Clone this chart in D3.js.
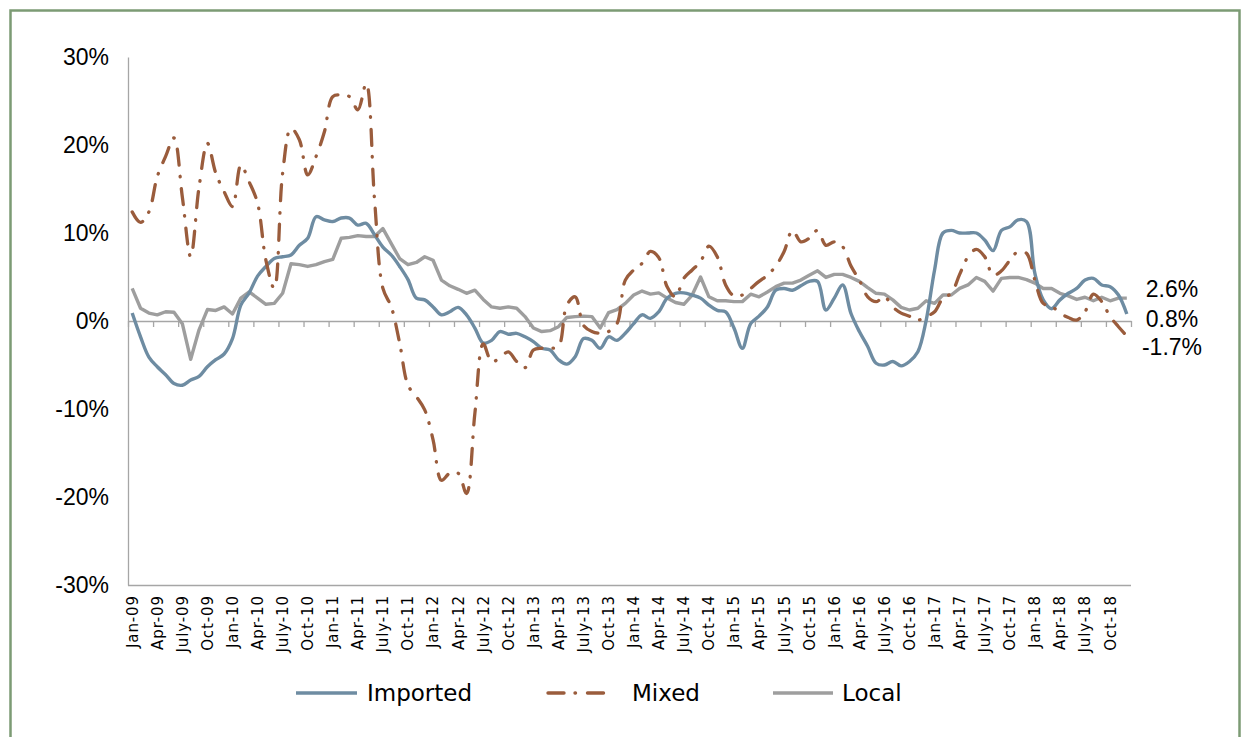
<!DOCTYPE html>
<html>
<head>
<meta charset="utf-8">
<script src="https://cdn.jsdelivr.net/npm/d3@7"></script>
<style>
  html, body { margin: 0; padding: 0; background: #fff; }
  svg { display: block; }
</style>
</head>
<body>
<div id="chart"></div>
<script>
// Monthly year-on-year change (%), Jan 2009 – Dec 2018
const years = ["09", "10", "11", "12", "13", "14", "15", "16", "17", "18"];
const monthNames = ["Jan", "Feb", "Mar", "Apr", "May", "June", "July", "Aug", "Sep", "Oct", "Nov", "Dec"];

const imported = [
  0.9, -1.8, -4.1, -5.2, -6.1, -7.1, -7.3, -6.7, -6.3, -5.2, -4.4, -3.75,
  -2.0, 1.8, 3.2, 5.1, 6.2, 7.1, 7.3, 7.5, 8.6, 9.4, 11.85, 11.5,
  11.3, 11.7, 11.7, 10.9, 11.1, 9.8, 8.4, 7.5, 6.2, 4.7, 2.6, 2.4,
  1.6, 0.7, 1.05, 1.55, 0.7, -0.8, -2.5, -2.2, -1.2, -1.5, -1.4, -1.8,
  -2.35, -3.1, -3.3, -4.4, -4.9, -4.05, -2.0, -2.2, -3.1, -1.8, -2.2, -1.4,
  -0.3, 0.7, 0.3, 1.05, 2.6, 3.15, 3.2, 2.95, 2.6, 1.8, 1.2, 1.05,
  -0.8, -3.1, -0.3, 0.55, 1.6, 3.5, 3.7, 3.5, 4.0, 4.5, 4.5, 1.25,
  2.6, 4.1, 0.85, -1.2, -2.9, -4.8, -5.0, -4.6, -5.1, -4.6, -3.5, 0.1,
  5.8, 10.0, 10.3, 10.0, 10.0, 10.0, 9.2, 8.0, 10.3, 10.7, 11.5, 11.3,
  5.4, 2.4, 1.4, 2.4, 3.15, 3.7, 4.65, 4.85, 4.1, 3.9, 2.95, 0.8
];

const mixed = [
  12.4, 11.2, 12.4, 16.4, 18.7, 20.8, 14.1, 7.3, 15.2, 20.2, 16.8, 14.7,
  13.0, 17.7, 15.8, 13.4, 6.9, 3.7, 16.8, 21.9, 20.6, 16.6, 18.7, 21.5,
  25.5, 25.7, 25.5, 24.0, 27.0, 13.75, 3.7, 1.6, -2.5, -7.3, -8.6, -10.1,
  -13.5, -18.1, -17.3, -17.3, -19.6, -10.5, -2.6, -4.6, -4.2, -3.5, -4.6, -5.3,
  -3.3, -3.1, -3.1, -2.9, 1.8, 2.75, -0.5, -1.2, -1.4, -1.2, -0.3, 4.65,
  5.8, 6.55, 7.9, 7.2, 3.9, 2.75, 4.85, 5.8, 6.75, 8.5, 7.3, 4.1,
  2.85, 2.95, 3.7, 4.5, 5.2, 6.25, 7.9, 10.3, 9.0, 9.4, 10.3, 8.6,
  9.0, 8.45, 6.25, 4.65, 2.75, 2.2, 2.75, 1.6, 0.9, 0.55, 0.1, 0.5,
  1.05, 2.6, 3.15, 5.3, 7.3, 8.15, 7.3, 5.2, 5.7, 6.9, 7.9, 7.7,
  4.65, 2.0, 1.7, 0.9, 0.4, 0.1, 1.05, 3.05, 2.2, 0.5, -0.65, -1.7
];

const local = [
  3.7, 1.45, 0.9, 0.7, 1.05, 1.0, -0.3, -4.35, -1.0, 1.3, 1.2, 1.6,
  0.8, 2.6, 3.3, 2.6, 1.9, 2.0, 3.15, 6.5, 6.4, 6.2, 6.4, 6.75,
  7.0, 9.4, 9.5, 9.7, 9.6, 9.6, 10.5, 8.8, 7.1, 6.4, 6.65, 7.3,
  6.9, 4.65, 4.0, 3.6, 3.15, 3.5, 2.45, 1.6, 1.45, 1.6, 1.45, 0.5,
  -0.8, -1.2, -1.1, -0.65, 0.4, 0.5, 0.55, 0.5, -0.8, 0.95, 1.3, 2.0,
  2.95, 3.4, 3.05, 3.2, 2.6, 2.1, 1.9, 2.95, 5.0, 2.75, 2.3, 2.3,
  2.2, 2.2, 3.05, 2.75, 3.3, 3.9, 4.3, 4.3, 4.65, 5.2, 5.7, 4.95,
  5.3, 5.3, 4.95, 4.5, 3.8, 3.15, 3.05, 2.4, 1.55, 1.25, 1.45, 2.3,
  2.0, 2.95, 2.95, 3.7, 4.1, 4.95, 4.5, 3.4, 4.85, 4.95, 4.95, 4.7,
  4.3, 3.7, 3.7, 3.15, 2.85, 2.45, 2.7, 2.3, 2.7, 2.3, 2.6, 2.6
];

const yTicks = [-30, -20, -10, 0, 10, 20, 30];

// Category labels: "Jan-09", "Feb-09", ...
const categories = years.flatMap(yy => monthNames.map(m => `${m}-${yy}`));

const W = 1243, H = 737;
const plotLeft = 128, plotRight = 1131, plotTop = 57, plotBottom = 585;

const svg = d3.select("#chart").append("svg")
  .attr("width", W).attr("height", H);

// Outer frame
svg.append("rect")
  .attr("x", 10.5).attr("y", 10.5)
  .attr("width", 1229).attr("height", 760)
  .attr("fill", "none")
  .attr("stroke", "#7C9B74")
  .attr("stroke-width", 2.5);

const x = d3.scaleBand().domain(categories).range([plotLeft, plotRight]).padding(0);
const xEdge = d3.scaleLinear().domain([0, categories.length]).range([plotLeft, plotRight]);
const y = d3.scaleLinear().domain([-30, 30]).range([plotBottom, plotTop]);

const axisColor = "#A6A6A6";

// Plot-area bottom edge
svg.append("line")
  .attr("x1", plotLeft).attr("x2", plotRight)
  .attr("y1", plotBottom + 0.5).attr("y2", plotBottom + 0.5)
  .attr("stroke", axisColor).attr("stroke-width", 1.3);

// Vertical axis with percent labels
const yAxis = svg.append("g")
  .attr("transform", `translate(${plotLeft},0)`)
  .call(d3.axisLeft(y).tickValues(yTicks).tickSize(0).tickPadding(19)
    .tickFormat(d => d + "%"));
yAxis.select(".domain").attr("stroke", axisColor).attr("stroke-width", 1.3);
yAxis.selectAll("text")
  .attr("font-family", "'Liberation Sans', Arial, sans-serif")
  .attr("font-size", 23)
  .attr("fill", "#000");

// Horizontal axis line crossing at 0%, with tick marks between quarters
const zeroAxis = svg.append("g")
  .attr("transform", `translate(0,${y(0)})`)
  .call(d3.axisBottom(xEdge)
    .tickValues(d3.range(0, categories.length + 1, 3))
    .tickSize(6).tickSizeOuter(0).tickFormat(""));
zeroAxis.select(".domain").attr("stroke", axisColor).attr("stroke-width", 1.3);
zeroAxis.selectAll(".tick line").attr("stroke", axisColor).attr("stroke-width", 1.3);

// Category labels along the bottom, every third month
const labelAxis = svg.append("g")
  .attr("transform", `translate(0,${plotBottom})`)
  .call(d3.axisBottom(x)
    .tickValues(categories.filter((d, i) => i % 3 === 0))
    .tickSize(0));
labelAxis.select(".domain").remove();
labelAxis.selectAll("text")
  .attr("font-family", "'DejaVu Sans', sans-serif")
  .attr("font-size", 15)
  .attr("letter-spacing", 0.9)
  .attr("fill", "#000")
  .attr("text-anchor", "end")
  .attr("transform", "rotate(-90)")
  .attr("x", -10)
  .attr("y", 0)
  .attr("dy", "0.36em");

const colors = { Imported: "#6E8CA2", Mixed: "#9A5C3C", Local: "#9E9E9E" };
const dashMixed = "16,11,0.5,12";

const seriesData = { Imported: imported, Mixed: mixed, Local: local };

const cx = (d, i) => x(categories[i]) + x.bandwidth() / 2;
const smooth = d3.line().x(cx).y(d => y(d)).curve(d3.curveCatmullRom.alpha(0.5));
const straight = d3.line().x(cx).y(d => y(d));

// Draw order: Local beneath, Imported, Mixed on top
svg.append("path")
  .attr("d", straight(local))
  .attr("fill", "none")
  .attr("stroke", colors.Local)
  .attr("stroke-width", 3.4)
  .attr("stroke-linejoin", "round");

svg.append("path")
  .attr("d", smooth(imported))
  .attr("fill", "none")
  .attr("stroke", colors.Imported)
  .attr("stroke-width", 3.4)
  .attr("stroke-linejoin", "round");

svg.append("path")
  .attr("d", smooth(mixed))
  .attr("fill", "none")
  .attr("stroke", colors.Mixed)
  .attr("stroke-width", 3.3)
  .attr("stroke-dasharray", dashMixed)
  .attr("stroke-linecap", "round");

// End-of-series value labels
const endLabels = [
  { name: "Local", cy: 289 },
  { name: "Imported", cy: 319 },
  { name: "Mixed", cy: 347 }
];
svg.append("g").selectAll("text")
  .data(endLabels)
  .join("text")
  .attr("x", 1172)
  .attr("y", d => d.cy)
  .attr("dy", "0.36em")
  .attr("text-anchor", "middle")
  .attr("font-family", "'Liberation Sans', Arial, sans-serif")
  .attr("font-size", 23)
  .attr("fill", "#000")
  .text(d => {
    const arr = seriesData[d.name];
    return arr[arr.length - 1].toFixed(1) + "%";
  });

// Legend
const legendItems = [
  { name: "Imported", x0: 296, x1: 357, tx: 367 },
  { name: "Mixed", x0: 548, x1: 604, tx: 632 },
  { name: "Local", x0: 773, x1: 833, tx: 842 }
];
const legend = svg.append("g");
legendItems.forEach(it => {
  legend.append("line")
    .attr("x1", it.x0).attr("x2", it.x1)
    .attr("y1", 693).attr("y2", 693)
    .attr("stroke", colors[it.name])
    .attr("stroke-width", 3.4)
    .attr("stroke-linecap", it.name === "Mixed" ? "round" : "butt")
    .attr("stroke-dasharray", it.name === "Mixed" ? dashMixed : null);
  legend.append("text")
    .attr("x", it.tx).attr("y", 701)
    .attr("font-family", "'DejaVu Sans', sans-serif")
    .attr("font-size", 23)
    .attr("fill", "#000")
    .text(it.name);
});
</script>
</body>
</html>
